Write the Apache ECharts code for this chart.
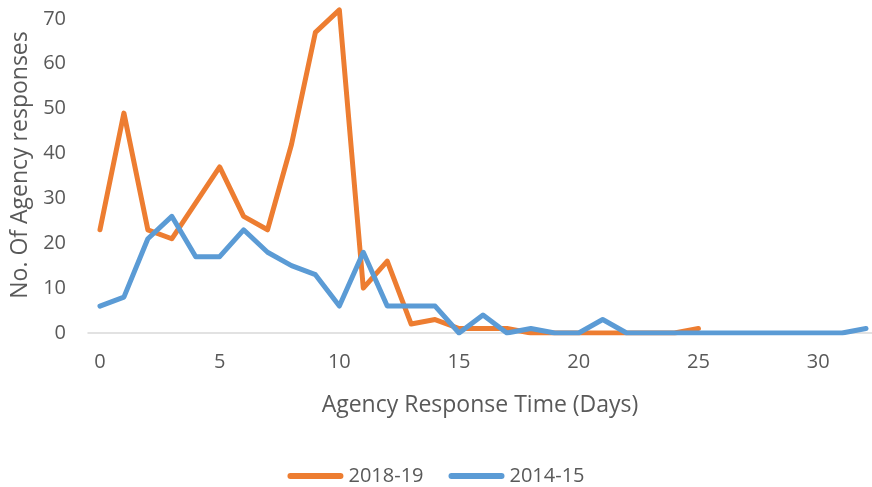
<!DOCTYPE html>
<html>
<head>
<meta charset="utf-8">
<script src="https://cdn.jsdelivr.net/npm/echarts@6/dist/echarts.min.js"></script>
<style>
  html, body { margin: 0; padding: 0; background: #fff; }
  #chart { width: 872px; height: 487px; }
</style>
</head>
<body>
<div id="chart"></div>
<script>
var days = [];
for (var d = 0; d <= 32; d++) days.push(d);

// 2018-19 responses per day (0..25)
var resp1819 = [23, 49, 23, 21, 29, 37, 26, 23, 42, 67, 72, 10, 16, 2, 3, 1, 1, 1, 0, 0, 0, 0, 0, 0, 0, 1];
// 2014-15 responses per day (0..32)
var resp1415 = [6, 8, 21, 26, 17, 17, 23, 18, 15, 13, 6, 18, 6, 6, 6, 0, 4, 0, 1, 0, 0, 3, 0, 0, 0, 0, 0, 0, 0, 0, 0, 0, 1];

var xTicks = [0, 5, 10, 15, 20, 25, 30];

function pairs(arr) {
    return arr.map(function (v, i) { return [days[i], v]; });
}

var font = 'Open Sans';
var grey = '#595959';

var option = {
    animation: false,
    grid: { left: 88, right: 0, top: -26, bottom: 154, outerBoundsMode: 'none' },
    legend: {
        top: 461,
        left: 'center',
        itemWidth: 56,
        itemHeight: 6,
        itemGap: 25,
        icon: 'path://M3,0 L53,0 A3,3 0 0 1 53,6 L3,6 A3,3 0 0 1 3,0 Z',
        textStyle: { fontFamily: font, fontSize: 20, color: grey },
        data: ['2018-19', '2014-15']
    },
    xAxis: {
        type: 'value',
        min: -0.5,
        max: 32.25,
        name: 'Agency Response Time (Days)',
        nameLocation: 'middle',
        nameGap: 61,
        nameTextStyle: { fontFamily: font, fontSize: 23, color: grey },
        axisLine: { lineStyle: { color: '#D9D9D9', width: 1.5 } },
        axisTick: { show: false },
        splitLine: { show: false },
        axisLabel: {
            customValues: xTicks,
            fontFamily: font, fontSize: 20, color: grey, margin: 19
        }
    },
    yAxis: {
        type: 'value',
        min: 0,
        max: 80,
        interval: 10,
        name: 'No. Of Agency responses',
        nameLocation: 'middle',
        nameGap: 56,
        nameTextStyle: { fontFamily: font, fontSize: 23, color: grey, padding: [0, 23, 0, 0] },
        axisLine: { show: false },
        axisTick: { show: false },
        splitLine: { show: false },
        axisLabel: { fontFamily: font, fontSize: 20, color: grey, margin: 22 }
    },
    series: [
        {
            name: '2018-19',
            type: 'line',
            data: pairs(resp1819),
            symbol: 'none',
            color: '#ED7D31',
            lineStyle: { width: 5, cap: 'round', join: 'round' }
        },
        {
            name: '2014-15',
            type: 'line',
            data: pairs(resp1415),
            symbol: 'none',
            color: '#5B9BD5',
            lineStyle: { width: 5, cap: 'round', join: 'round' }
        }
    ]
};

echarts.init(document.getElementById('chart')).setOption(option);
</script>
</body>
</html>
